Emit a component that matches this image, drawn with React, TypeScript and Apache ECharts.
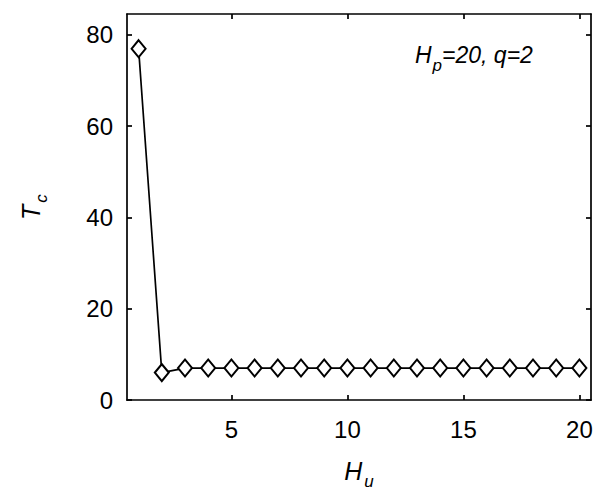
import React, { useEffect, useRef } from "react";
import * as echarts from "echarts";

const huValues: number[] = [1, 2, 3, 4, 5, 6, 7, 8, 9, 10, 11, 12, 13, 14, 15, 16, 17, 18, 19, 20];
const tcValues: number[] = [77, 6, 7, 7, 7, 7, 7, 7, 7, 7, 7, 7, 7, 7, 7, 7, 7, 7, 7, 7];
const xRange: number[] = [0.5, 20.5];
const yRange: number[] = [0, 84.6];
const xTicks: number[] = [5, 10, 15, 20];
const yTicks: number[] = [0, 20, 40, 60, 80];

const FONT = "'Liberation Sans', Arial, Helvetica, sans-serif";

export default function App() {
  const ref = useRef<HTMLDivElement>(null);
  useEffect(() => {
    if (!ref.current) return;
    const chart = echarts.init(ref.current, null, { renderer: "svg" });
    const axisLine = { show: true, onZero: false, lineStyle: { color: "#000", width: 1.7 } };
    const xTick = { show: true, inside: true, length: 5, customValues: xTicks, lineStyle: { color: "#000", width: 1.7 } };
    const yTick = { show: true, inside: true, length: 5, customValues: yTicks, lineStyle: { color: "#000", width: 1.7 } };
    const data = huValues.map((h, i) => [h, tcValues[i]]);
    const titleRich = {
      i: { fontSize: 25, fontStyle: "italic", fontFamily: FONT, color: "#000" },
      s: { fontSize: 17, fontStyle: "italic", fontFamily: FONT, color: "#000", padding: [22, 0, 0, 2] },
    };
    chart.setOption({
      animation: false,
      backgroundColor: "#fff",
      textStyle: { fontFamily: FONT },
      grid: { left: 119, top: 6, right: 11, bottom: 94, containLabel: false },
      xAxis: [
        {
          type: "value",
          min: xRange[0],
          max: xRange[1],
          axisLine,
          axisTick: xTick,
          splitLine: { show: false },
          axisLabel: {
            color: "#000",
            fontSize: 24,
            fontFamily: FONT,
            margin: 17,
            customValues: xTicks,
          },
          name: "{i|H}{s|u}",
          nameLocation: "middle",
          nameGap: 51,
          nameTextStyle: { rich: titleRich },
        },
        {
          type: "value",
          position: "top",
          min: xRange[0],
          max: xRange[1],
          axisLine,
          axisTick: xTick,
          splitLine: { show: false },
          axisLabel: { show: false },
        },
      ],
      yAxis: [
        {
          type: "value",
          min: yRange[0],
          max: yRange[1],
          axisLine,
          axisTick: yTick,
          splitLine: { show: false },
          axisLabel: {
            color: "#000",
            fontSize: 24,
            fontFamily: FONT,
            margin: 14,
            customValues: yTicks,
          },
          name: "{i|T}{s|c}",
          nameLocation: "middle",
          nameRotate: 90,
          nameGap: 77,
          nameTextStyle: { rich: titleRich },
        },
        {
          type: "value",
          position: "right",
          min: yRange[0],
          max: yRange[1],
          axisLine,
          axisTick: yTick,
          splitLine: { show: false },
          axisLabel: { show: false },
        },
      ],
      graphic: [
        {
          type: "text",
          left: 407,
          top: 35,
          style: {
            text: "{i|H}{s|p}{i|=20, q=2}",
            rich: {
              i: { fontSize: 23, fontStyle: "italic", fontFamily: FONT, fill: "#000" },
              s: { fontSize: 17, fontStyle: "italic", fontFamily: FONT, fill: "#000", padding: [22, 0, 0, 1] },
            },
          },
        },
      ],
      series: [
        {
          type: "line",
          data,
          xAxisIndex: 0,
          yAxisIndex: 0,
          symbol: "diamond",
          symbolSize: [14, 17],
          showAllSymbol: true,
          lineStyle: { color: "#000", width: 1.7 },
          itemStyle: { color: "#fff", borderColor: "#000", borderWidth: 2 },
          z: 3,
        },
      ],
    });
    return () => chart.dispose();
  }, []);
  return <div ref={ref} style={{ width: 594, height: 487 }} />;
}
